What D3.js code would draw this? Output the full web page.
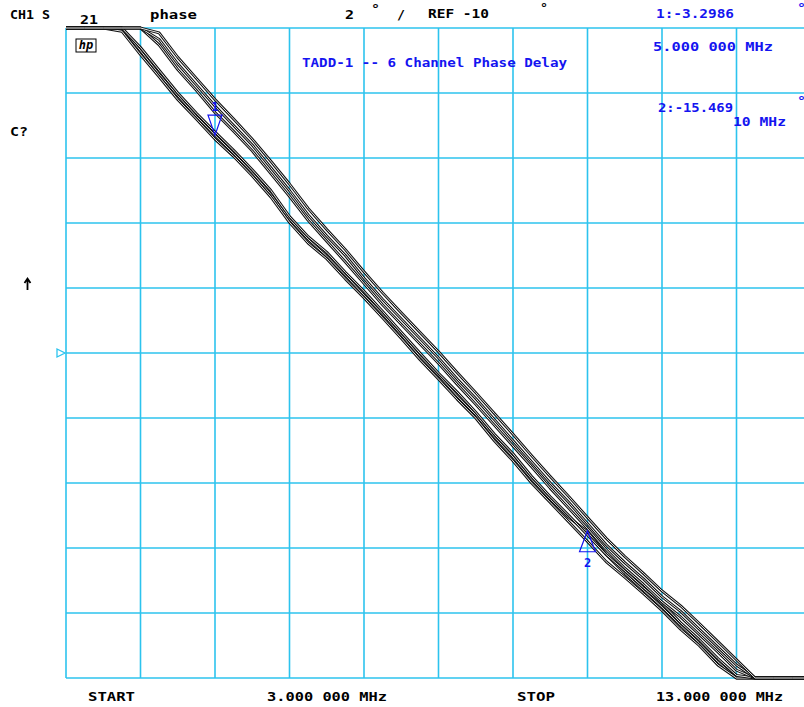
<!DOCTYPE html>
<html><head><meta charset="utf-8">
<script src="https://cdn.jsdelivr.net/npm/d3@7"></script>
<style>
html,body{margin:0;padding:0;background:#fff;}
svg{display:block;}
text{font-family:"DejaVu Sans Mono",monospace;font-weight:bold;font-size:12px;}
</style></head>
<body>
<svg id="c" width="804" height="707"></svg>
<script>
// Frequency axis (MHz)
const freqs = [3.0,3.25,3.5,3.75,4.0,4.25,4.5,4.75,5.0,5.25,5.5,5.75,6.0,6.25,6.5,6.75,7.0,7.25,7.5,7.75,8.0,8.25,8.5,8.75,9.0,9.25,9.5,9.75,10.0,10.25,10.5,10.75,11.0,11.25,11.5,11.75,12.0,12.25,12.5,12.75,13.0];
// Phase (degrees) per channel
const ch1 = [1.8,1.3,0.72,0.0,-0.7,-1.42,-2.08,-2.72,-3.30,-3.86,-4.45,-5.12,-5.88,-6.5,-7.02,-7.6,-8.22,-8.8,-9.44,-10.1,-10.68,-11.32,-11.9,-12.58,-13.2,-13.88,-14.5,-15.06,-15.5,-16.2,-16.78,-17.3,-17.82,-18.38,-18.92,-19.5,-20.02,-20.6,-21.2,-21.8,-22.4];
const ch2 = [1.7,1.18,0.6,-0.1,-0.82,-1.5,-2.2,-2.8,-3.42,-3.95,-4.55,-5.2,-5.98,-6.62,-7.1,-7.72,-8.3,-8.92,-9.55,-10.2,-10.8,-11.42,-12.0,-12.7,-13.32,-14.0,-14.6,-15.2,-15.8,-16.42,-16.9,-17.4,-17.92,-18.5,-19.0,-19.6,-20.1,-20.7,-21.3,-21.9,-22.5];
const ch3 = [1.9,1.4,0.8,0.1,-0.6,-1.3,-2.0,-2.62,-3.2,-3.76,-4.36,-5.0,-5.8,-6.42,-6.9,-7.52,-8.1,-8.72,-9.36,-10.0,-10.62,-11.2,-11.82,-12.5,-13.1,-13.8,-14.42,-15.0,-15.6,-16.2,-16.7,-17.22,-17.7,-18.3,-18.82,-19.4,-19.92,-20.5,-21.1,-21.7,-22.3];
const ch4 = [2.62,2.02,1.42,0.72,0.17,-0.52,-1.28,-1.92,-2.6,-3.18,-3.78,-4.48,-5.18,-5.92,-6.56,-7.2,-7.86,-8.52,-9.12,-9.72,-10.32,-10.96,-11.58,-12.22,-12.86,-13.5,-14.16,-14.78,-15.4,-16.05,-16.62,-17.12,-17.66,-18.12,-18.66,-19.2,-19.76,-20.36,-20.96,-21.56,-22.16];
const ch5 = [2.8,2.2,1.6,0.9,0.35,-0.35,-1.1,-1.75,-2.4,-3.0,-3.6,-4.3,-5.0,-5.75,-6.4,-7.0,-7.7,-8.35,-8.95,-9.55,-10.15,-10.8,-11.4,-12.05,-12.7,-13.35,-14.0,-14.6,-15.25,-15.9,-16.45,-16.95,-17.5,-17.95,-18.5,-19.05,-19.6,-20.2,-20.8,-21.4,-22.0];
const ch6 = [3.0,2.4,1.82,1.1,0.55,-0.15,-0.9,-1.55,-2.2,-2.8,-3.42,-4.1,-4.8,-5.55,-6.2,-6.82,-7.5,-8.15,-8.76,-9.36,-9.96,-10.6,-11.22,-11.86,-12.5,-13.16,-13.8,-14.42,-15.06,-15.7,-16.26,-16.78,-17.32,-17.78,-18.32,-18.88,-19.44,-20.04,-20.64,-21.24,-21.84];
const channels = [ch1,ch2,ch3,ch4,ch5,ch6];
// Grid divisions
const xGrid = [3,4,5,6,7,8,9,10,11,12,13];
const yGrid = [0,-2,-4,-6,-8,-10,-12,-14,-16,-18,-20];
const refValue = -10;
// Markers
const markerFreqs = [5,10];
const markerValues = [-3.2986,-15.469];
const markerNames = ["1","2"];

const svg = d3.select("#c");
const x = d3.scaleLinear().domain([3,13]).range([66,811]);
const y = d3.scaleLinear().domain([0,-20]).range([28,678]).clamp(true);

const GRID = "#2cc3ee", BLUE = "#1414f0";

// grid
const g = svg.append("g");
g.selectAll("line.v").data(xGrid).join("line")
  .attr("x1",d=>x(d)).attr("x2",d=>x(d)).attr("y1",y(0)).attr("y2",y(-20))
  .attr("stroke",GRID).attr("stroke-width",1.6);
g.selectAll("line.h").data(yGrid).join("line")
  .attr("x1",x(3)).attr("x2",x(13)).attr("y1",d=>y(d)).attr("y2",d=>y(d))
  .attr("stroke",GRID).attr("stroke-width",1.6);

// reference marker
const ry = y(refValue);
svg.append("path").attr("d",`M57,${ry-4}L65,${ry}L57,${ry+4}Z`).attr("fill","none").attr("stroke",GRID).attr("stroke-width",1.3);

// traces
const line = d3.line().x((d,i)=>x(freqs[i])).y(d=>y(d));
const tg = svg.append("g");
channels.forEach(c=>{
  tg.append("path").attr("d",line(c)).attr("fill","none").attr("stroke","#111").attr("stroke-width",2.8).attr("stroke-linejoin","round");
  tg.append("path").attr("d",line(c)).attr("fill","none").attr("stroke","#fff").attr("stroke-width",0.9).attr("stroke-linejoin","round");
});

// markers
markerFreqs.forEach((f,i)=>{
  const mx = x(f), my = y(markerValues[i]);
  if(i===0){
    svg.append("path").attr("d",`M${mx-7},${my-20}L${mx+7},${my-20}L${mx},${my}Z`).attr("fill","none").attr("stroke",BLUE).attr("stroke-width",1.2);
    svg.append("text").attr("x",mx).attr("y",my-24).attr("text-anchor","middle").attr("fill",BLUE).attr("font-size",10).text(markerNames[i]);
  } else {
    svg.append("path").attr("d",`M${mx-8},${my+21}L${mx+8},${my+21}L${mx},${my}Z`).attr("fill","none").attr("stroke",BLUE).attr("stroke-width",1.2);
    svg.append("text").attr("x",mx).attr("y",my+36).attr("text-anchor","middle").attr("fill",BLUE).attr("font-size",11).text(markerNames[i]);
  }
});

// texts
function t(str,xp,yp,w,col,size){
  const e = svg.append("text").attr("x",xp).attr("y",yp).attr("fill",col||"#000").text(str);
  if(size) e.attr("font-size",size);
  if(w) e.attr("textLength",w).attr("lengthAdjust","spacingAndGlyphs");
  return e;
}
t("CH1 S",10,19,40);
t("21",80,24,18);
t("phase",150,19,47);
t("2",345,19,9);
t("°",371,13,9,null,13);
t("/",397,19,8);
t("REF -10",428,18,61);
t("°",540,12,8,null,12);
t("1:-3.2986",656,18,78,BLUE);
t("°",797,12,9,BLUE,12);
t("5.000 000 MHz",653,51,120,BLUE);
t("TADD-1 -- 6 Channel Phase Delay",302,67,265,BLUE);
t("2:-15.469",658,112,75,BLUE);
t("°",797,105,9,BLUE,12);
t("10 MHz",733,126,53,BLUE);
t("C?",10,136,18);
t("START",88,701,47);
t("3.000 000 MHz",267,701,120);
t("STOP",517,701,38);
t("13.000 000 MHz",656,701,127);

// up arrow (active-channel indicator)
svg.append("path").attr("d","M27.5,279L27.5,290M24.5,283L27.5,278.5L30.5,283")
  .attr("fill","none").attr("stroke","#000").attr("stroke-width",1.8);

// hp logo
svg.append("rect").attr("x",76).attr("y",39).attr("width",20).attr("height",13).attr("fill","none").attr("stroke","#000").attr("stroke-width",1);
svg.append("text").attr("x",86).attr("y",49).attr("text-anchor","middle").attr("font-size",11).attr("font-style","italic").attr("font-weight","normal").attr("font-family","DejaVu Sans").text("hp");
</script>
</body></html>
